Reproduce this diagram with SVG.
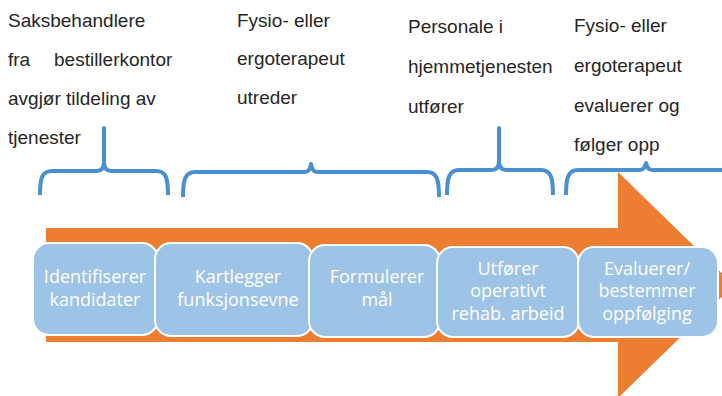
<svg xmlns="http://www.w3.org/2000/svg" width="722" height="396" viewBox="0 0 722 396">
<style>
.note{font-family:"Liberation Sans","DejaVu Sans",sans-serif;font-size:19px;fill:#262626}
.brace{fill:none;stroke:#4A8FD0;stroke-width:4;stroke-linejoin:round;stroke-linecap:butt}
.box{fill:#9DC3E6;stroke:#FFFFFF;stroke-width:2}
.lbl{font-family:"Open Sans","Liberation Sans",sans-serif;font-size:18px;fill:#FFFFFF;text-anchor:middle}
</style>
<rect width="722" height="396" fill="#FFFFFF"/>
<g id="arrow">
<polygon points="46,228 618,228 618,172 734,285 618,398 618,342 46,342" fill="#ED7D31"/>
</g>
<g id="notes">
<g id="note1">
<text class="note" x="8" y="27">Saksbehandlere</text>
<text class="note" x="8" y="66">fra <tspan x="54">bestillerkontor</tspan></text>
<text class="note" x="8" y="105">avgjør tildeling av</text>
<text class="note" x="8" y="144">tjenester</text>
</g>
<g id="note2">
<text class="note" x="237" y="27">Fysio- eller</text>
<text class="note" x="237" y="65">ergoterapeut</text>
<text class="note" x="237" y="104">utreder</text>
</g>
<g id="note3">
<text class="note" x="408" y="33">Personale i</text>
<text class="note" x="408" y="73">hjemmetjenesten</text>
<text class="note" x="408" y="113">utfører</text>
</g>
<g id="note4">
<text class="note" x="574" y="32">Fysio- eller</text>
<text class="note" x="574" y="72">ergoterapeut</text>
<text class="note" x="574" y="112">evaluerer og</text>
<text class="note" x="574" y="151">følger opp</text>
</g>
</g>
<g id="connectors">
<path class="brace" d="M40,195 C40,178 42,171 52,171 L97,171 C102,171 104,168 104,162 L104,128 L104,162 C104,168 106,171 111,171 L156,171 C166,171 168,178 168,195"/>
<path class="brace" d="M183,197 C183,180 185,172 195,172 L304,172 C309,172 310,169 311,164 C312,169 313,172 318,172 L427,172 C437,172 439,180 439,197"/>
<path class="brace" d="M447,195 C447,178 449,170 459,170 L492,170 C497,170 499,167 499,161 L499,128 L499,161 C499,167 501,170 506,170 L541,170 C551,170 553,178 553,195"/>
<path class="brace" d="M566,195 C566,178 568,170 578,170 L639,170 C644,170 645,167 646,163 C647,167 648,170 653,170 L730,170"/>
</g>
<g id="box1">
<rect class="box" x="33" y="243" width="125" height="92" rx="16"/>
<text class="lbl" x="95" y="283">Identifiserer</text>
<text class="lbl" x="95" y="306">kandidater</text>
</g>
<g id="box2">
<rect class="box" x="155" y="243" width="158" height="93" rx="16"/>
<text class="lbl" x="238" y="283">Kartlegger</text>
<text class="lbl" x="238" y="306">funksjonsevne</text>
</g>
<g id="box3">
<rect class="box" x="309" y="245" width="131" height="92" rx="16"/>
<text class="lbl" x="377" y="283">Formulerer</text>
<text class="lbl" x="377" y="306">mål</text>
</g>
<g id="box4">
<rect class="box" x="437" y="247" width="142" height="90" rx="16"/>
<text class="lbl" x="508" y="275">Utfører</text>
<text class="lbl" x="508" y="297">operativt</text>
<text class="lbl" x="508" y="320">rehab. arbeid</text>
</g>
<g id="box5">
<rect class="box" x="578" y="247" width="140" height="90" rx="16"/>
<text class="lbl" x="647" y="275">Evaluerer/</text>
<text class="lbl" x="647" y="297">bestemmer</text>
<text class="lbl" x="647" y="320">oppfølging</text>
</g>
</svg>
